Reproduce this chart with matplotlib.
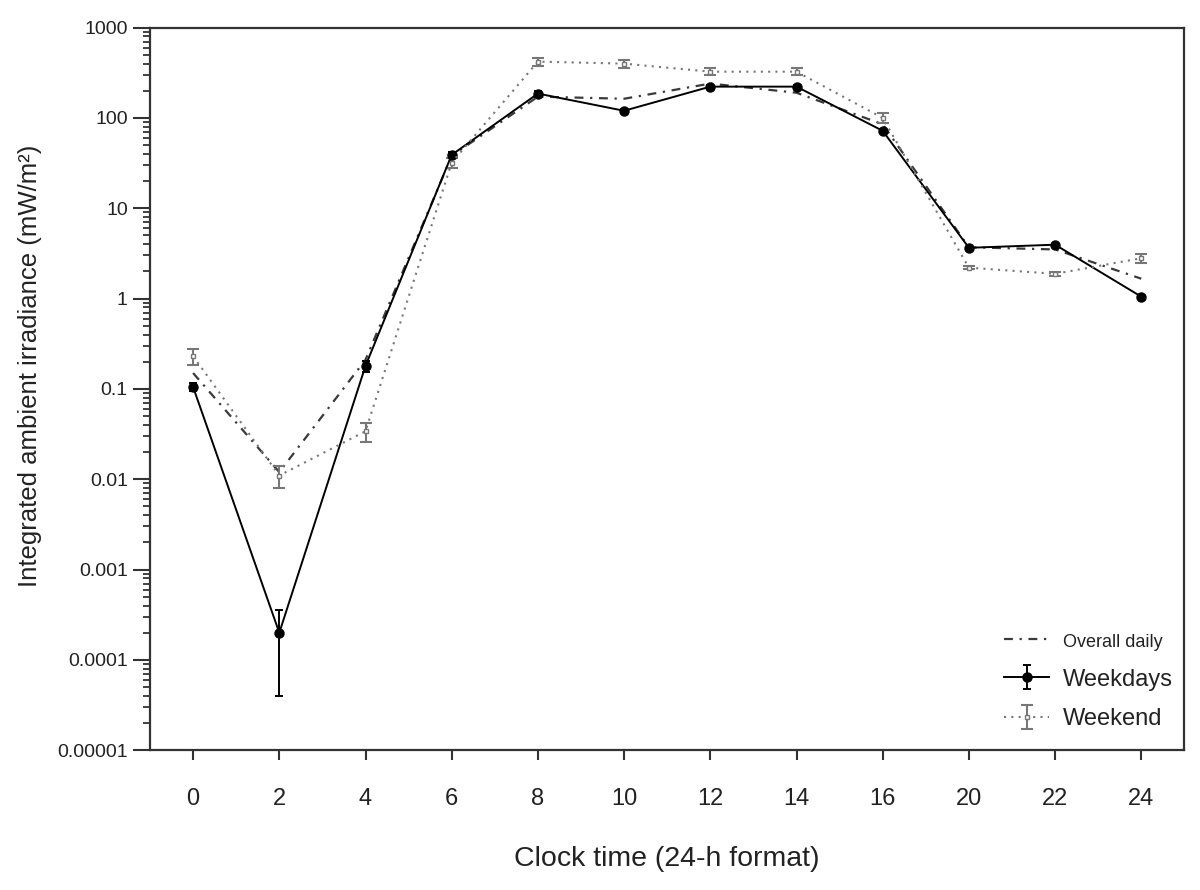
import matplotlib.pyplot as plt
from matplotlib.ticker import FixedLocator, LogLocator, NullFormatter

plt.rcParams['font.family'] = ['Liberation Sans', 'DejaVu Sans']

hours = ["0", "2", "4", "6", "8", "10", "12", "14", "16", "20", "22", "24"]

overall = [0.15, 0.012, 0.21, 38, 172, 163, 240, 190, 85, 3.7, 3.5, 1.66]

weekdays = [0.105, 0.0002, 0.18, 39, 186, 120, 222, 222, 72, 3.65, 3.95, 1.05]
weekdays_err = [0.01, 0.00016, 0.025, 3, 15, 5, 10, 10, 4, 0.1, 0.1, 0.03]

weekend = [0.23, 0.011, 0.034, 32, 420, 399, 325, 325, 100, 2.2, 1.88, 2.8]
weekend_err = [0.045, 0.003, 0.008, 4, 45, 40, 30, 30, 13, 0.1, 0.1, 0.3]

ytick_values = [0.00001, 0.0001, 0.001, 0.01, 0.1, 1, 10, 100, 1000]
ytick_labels = ["0.00001", "0.0001", "0.001", "0.01", "0.1", "1", "10", "100", "1000"]

x = range(len(hours))

figure = plt.figure(figsize=(12, 8.9), dpi=100)
axes = figure.add_axes([0.125, 0.157, 0.862, 0.812])

overall_plot, = axes.plot(x, overall, color="#3a3a3a", linestyle=(0, (4, 3, 1, 3)),
                          linewidth=1.6, label="Overall daily")

weekdays_plot = axes.errorbar(x, weekdays, yerr=weekdays_err, color="black",
                              linewidth=1.4, marker="o", markersize=6.5,
                              capsize=3, elinewidth=1.4, capthick=1.4,
                              label="Weekdays")

weekend_plot = axes.errorbar(x, weekend, yerr=weekend_err, color="#777777",
                             linestyle=(0, (1, 2.5)), linewidth=1.5,
                             marker="s", markersize=2.5, markerfacecolor="white",
                             capsize=4.3, elinewidth=1.5, capthick=1.5,
                             label="Weekend")

axes.set_yscale("log")
axes.set_ylim(0.00001, 1000)
axes.set_xlim(-0.5, len(hours) - 0.5)
axes.yaxis.set_major_locator(FixedLocator(ytick_values))
axes.set_yticklabels(ytick_labels)
axes.yaxis.set_minor_locator(LogLocator(base=10, subs=range(2, 10), numticks=20))
axes.yaxis.set_minor_formatter(NullFormatter())

axes.set_xticks(list(x))
axes.set_xticklabels(hours)

for side in ["left", "bottom", "top", "right"]:
    axes.spines[side].set_color("#333333")
    axes.spines[side].set_linewidth(1.6)

axes.tick_params(axis="y", which="major", length=12, width=1.5, color="#333333",
                 labelsize=14, labelcolor="#222222", pad=4)
axes.tick_params(axis="y", which="minor", length=5, width=1.3, color="#333333")
axes.tick_params(axis="x", which="major", length=7, width=1.5, color="#333333",
                 labelsize=17, labelcolor="#222222", pad=20)

axes.set_ylabel("Integrated ambient irradiance (mW/m²)", fontsize=18.5, color="#222222")
axes.yaxis.set_label_coords(-0.104, 0.532)
axes.set_xlabel("Clock time (24-h format)", fontsize=20.5, color="#222222", labelpad=26)

legend = axes.legend(handles=[overall_plot, weekdays_plot, weekend_plot],
                     loc="lower right", frameon=False, handlelength=1.9,
                     fontsize=17, labelspacing=0.75, handletextpad=0.6,
                     borderaxespad=0.6, bbox_to_anchor=(1.012, -0.005))
texts = legend.get_texts()
texts[0].set_fontsize(13)
for t in texts:
    t.set_color("#222222")

figure.savefig("out.png", dpi=100)
